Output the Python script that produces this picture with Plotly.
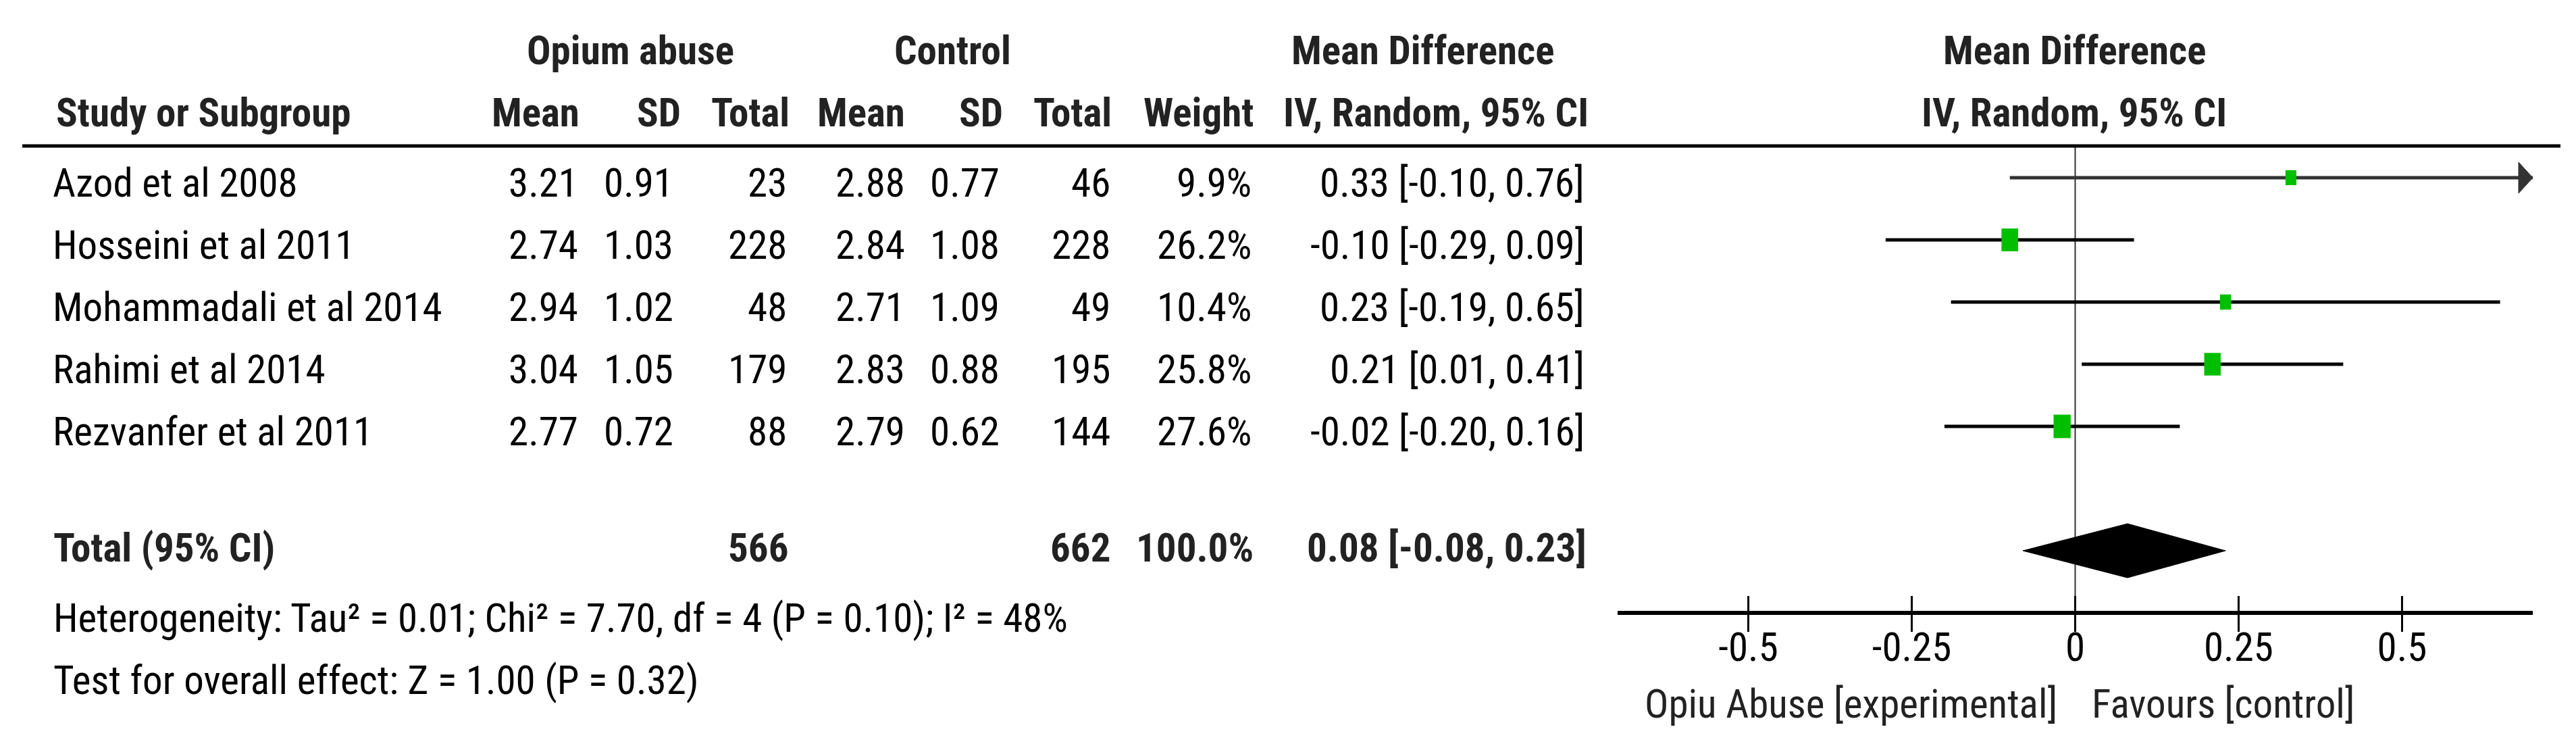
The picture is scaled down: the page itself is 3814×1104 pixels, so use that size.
import plotly.graph_objects as go

# ---------------- data ----------------
studies = ["Azod et al 2008", "Hosseini et al 2011", "Mohammadali et al 2014",
           "Rahimi et al 2014", "Rezvanfer et al 2011"]
exp_mean = [3.21, 2.74, 2.94, 3.04, 2.77]
exp_sd = [0.91, 1.03, 1.02, 1.05, 0.72]
exp_n = [23, 228, 48, 179, 88]
ctl_mean = [2.88, 2.84, 2.71, 2.83, 2.79]
ctl_sd = [0.77, 1.08, 1.09, 0.88, 0.62]
ctl_n = [46, 228, 49, 195, 144]
weight = [9.9, 26.2, 10.4, 25.8, 27.6]
md = [0.33, -0.10, 0.23, 0.21, -0.02]
ci_lo = [-0.10, -0.29, -0.19, 0.01, -0.20]
ci_hi = [0.76, 0.09, 0.65, 0.41, 0.16]

total_label = "Total (95% CI)"
total_exp_n = 566
total_ctl_n = 662
total_weight = 100.0
total_md = 0.08
total_lo = -0.08
total_hi = 0.23

heterogeneity = "Heterogeneity: Tau² = 0.01; Chi² = 7.70, df = 4 (P = 0.10); I² = 48%"
overall = "Test for overall effect: Z = 1.00 (P = 0.32)"

tick_vals = [-0.5, -0.25, 0, 0.25, 0.5]
tick_text = ["-0.5", "-0.25", "0", "0.25", "0.5"]
x_range = [-0.7, 0.7]
left_label = "Opiu Abuse [experimental]"
right_label = "Favours [control]"

# ---------------- layout geometry (pixels) ----------------
W, H = 3814, 1104
ROW0_PX = 255          # pixel y of first study row
ROW_PX = 92            # pixel height of one row
AXIS_ROW = 7.0
TOTAL_ROW = 6.0
TEXT_DY = 0.08         # text offset from mark line (rows)
PLOT_X0, PLOT_X1 = 2387, 3742
FONT = "Roboto Condensed"
FS = 59
GREEN = "#00BF00"

def px(x):
    return x / W

def row_to_px(r):
    return ROW0_PX + ROW_PX * r

fig = go.Figure()

# ---------------- forest plot marks ----------------
x_scale = (PLOT_X1 - PLOT_X0) / (x_range[1] - x_range[0])  # px per unit
for i in range(len(studies)):
    lo = max(ci_lo[i], x_range[0])
    hi = min(ci_hi[i], x_range[1])
    clipped = ci_hi[i] > x_range[1]
    fig.add_trace(go.Scatter(x=[lo, hi], y=[i, i], mode="lines",
                             line=dict(color="#333333" if clipped else "black", width=5),
                             hoverinfo="skip", showlegend=False))
    if clipped:
        ah = 21 / x_scale
        fig.add_trace(go.Scatter(x=[hi - ah, hi, hi - ah, hi - ah], y=[i - 0.25, i, i + 0.25, i - 0.25],
                                 mode="lines", fill="toself", fillcolor="#333333",
                                 line=dict(color="#333333", width=1),
                                 hoverinfo="skip", showlegend=False))
    # weighted box (taller than wide, like the reference)
    w_px = 11 + 0.52 * weight[i]
    h_px = w_px * 1.37
    hw = w_px / 2 / x_scale
    hh = h_px / 2 / ROW_PX
    fig.add_shape(type="rect", xref="x", yref="y", x0=md[i] - hw, x1=md[i] + hw,
                  y0=i - hh, y1=i + hh, fillcolor=GREEN, line=dict(width=0), layer="above")

# total diamond
dh = 40 / ROW_PX
fig.add_trace(go.Scatter(x=[total_lo, total_md, total_hi, total_md, total_lo],
                         y=[TOTAL_ROW, TOTAL_ROW - dh, TOTAL_ROW, TOTAL_ROW + dh, TOTAL_ROW],
                         mode="lines", fill="toself", fillcolor="black",
                         line=dict(color="black", width=1), hoverinfo="skip", showlegend=False))

# zero line
fig.add_shape(type="line", xref="x", yref="y", x0=0, x1=0, y0=-0.51, y1=AXIS_ROW + 25 / ROW_PX,
              line=dict(color="#333333", width=2), layer="below")
# tick marks above axis line
for t in tick_vals:
    fig.add_shape(type="line", xref="x", yref="y", x0=t, x1=t, y0=AXIS_ROW, y1=AXIS_ROW - 25 / ROW_PX,
                  line=dict(color="black", width=3))

# header underline
fig.add_shape(type="line", xref="paper", yref="y", x0=px(25), x1=px(3783), y0=-0.51, y1=-0.51,
              line=dict(color="black", width=5))

# ---------------- table text ----------------
def txt(x, y, s, anchor="left", bold=False, color="black", size=FS):
    fig.add_annotation(x=px(x), y=y + TEXT_DY, xref="paper", yref="y",
                       text=("<b>%s</b>" % s) if bold else s, showarrow=False,
                       xanchor=anchor, yanchor="middle",
                       font=dict(family=FONT, size=size, color=color))

HC = "#222222"
H1, H2 = -2.13, -1.13
# header row 1
txt(925, H1, "Opium abuse", "center", True, HC)
txt(1402, H1, "Control", "center", True, HC)
txt(2098, H1, "Mean Difference", "center", True, HC)
txt(3063, H1, "Mean Difference", "center", True, HC)
# header row 2
txt(73, H2, "Study or Subgroup", "left", True, HC)
txt(852, H2, "Mean", "right", True, HC)
txt(1002, H2, "SD", "right", True, HC)
txt(1163, H2, "Total", "right", True, HC)
txt(1334, H2, "Mean", "right", True, HC)
txt(1479, H2, "SD", "right", True, HC)
txt(1640, H2, "Total", "right", True, HC)
txt(1850, H2, "Weight", "right", True, HC)
txt(2118, H2, "IV, Random, 95% CI", "center", True, HC)
txt(3063, H2, "IV, Random, 95% CI", "center", True, HC)

for i, s in enumerate(studies):
    txt(68, i, s)
    txt(850, i, f"{exp_mean[i]:.2f}", "right")
    txt(991, i, f"{exp_sd[i]:.2f}", "right")
    txt(1159, i, f"{exp_n[i]}", "right")
    txt(1334, i, f"{ctl_mean[i]:.2f}", "right")
    txt(1474, i, f"{ctl_sd[i]:.2f}", "right")
    txt(1638, i, f"{ctl_n[i]}", "right")
    txt(1847, i, f"{weight[i]:.1f}%", "right")
    txt(2340, i, f"{md[i]:.2f} [{ci_lo[i]:.2f}, {ci_hi[i]:.2f}]", "right")

TR = TOTAL_ROW - 0.13
txt(69, TR, total_label, "left", True, HC)
txt(1161, TR, f"{total_exp_n}", "right", True, HC)
txt(1638, TR, f"{total_ctl_n}", "right", True, HC)
txt(1850, TR, f"{total_weight:.1f}%", "right", True, HC)
txt(2343, TR, f"{total_md:.2f} [{total_lo:.2f}, {total_hi:.2f}]", "right", True, HC)

txt(69, 7.0, heterogeneity)
txt(69, 8.0, overall)

# favours labels
txt(3040, 8.38, left_label, "right", False, HC)
txt(3087, 8.38, right_label, "left", False, HC)

# ---------------- axes ----------------
y_top = -ROW0_PX / ROW_PX
y_bot = (H - ROW0_PX) / ROW_PX
fig.update_layout(
    width=W, height=H, margin=dict(l=0, r=0, t=0, b=0),
    paper_bgcolor="white", plot_bgcolor="rgba(0,0,0,0)",
    xaxis=dict(domain=[px(PLOT_X0), px(PLOT_X1)], range=x_range, anchor="free",
               position=1 - row_to_px(AXIS_ROW) / H,
               showline=True, linewidth=6, linecolor="black", showgrid=False, zeroline=False,
               ticks="outside", ticklen=25, tickwidth=3, tickcolor="black",
               ticklabelstandoff=-28,
               tickvals=tick_vals, ticktext=tick_text,
               tickfont=dict(family=FONT, size=FS, color="black")),
    yaxis=dict(domain=[0, 1], range=[y_bot, y_top], visible=False, showgrid=False, zeroline=False),
    showlegend=False,
)

fig.write_html("out.html")
